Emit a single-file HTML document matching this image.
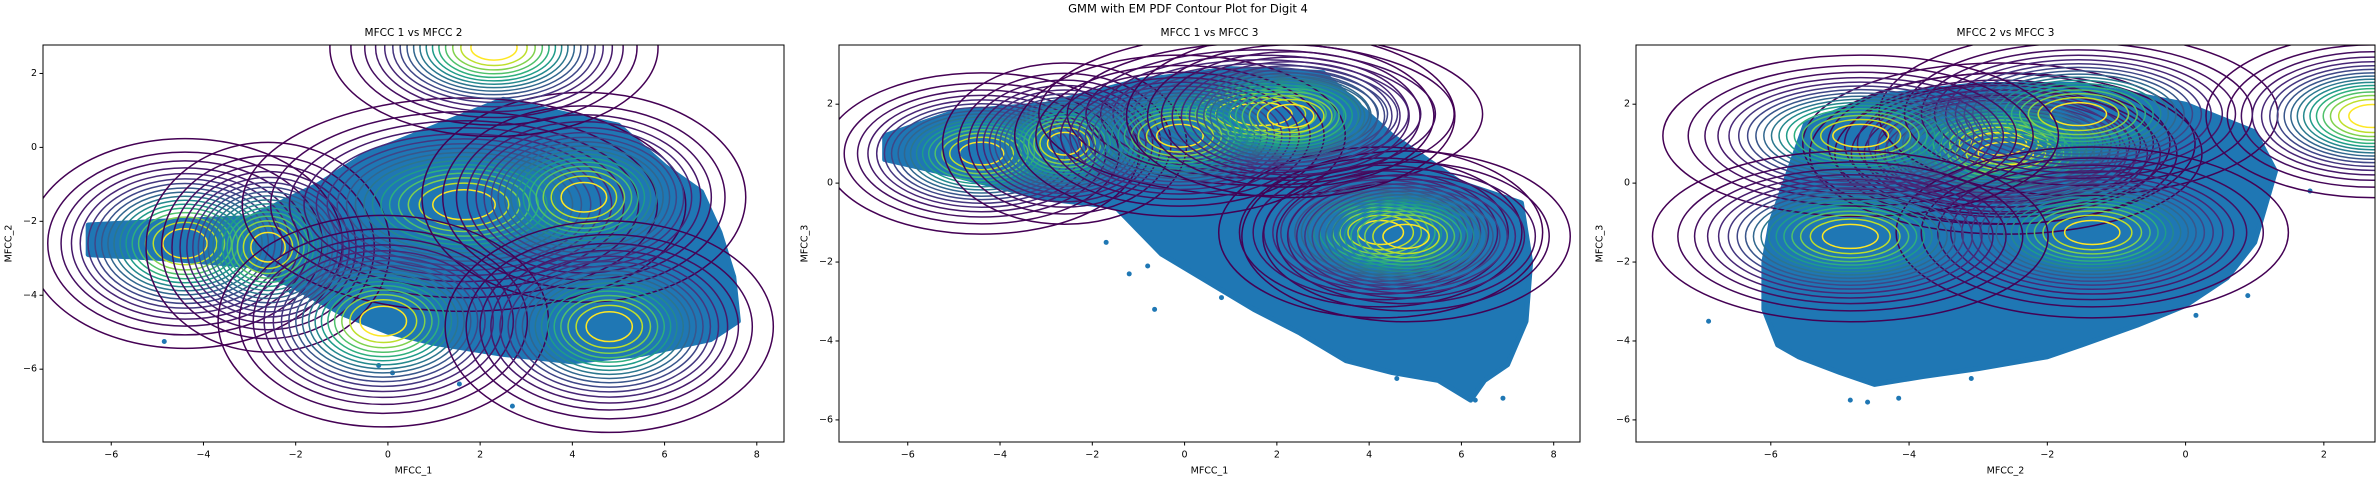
<!DOCTYPE html>
<html><head><meta charset="utf-8"><style>
html,body{margin:0;padding:0;background:#fff}
svg{display:block}
text{font-family:"DejaVu Sans","Liberation Sans",sans-serif;fill:#000}
</style></head><body>
<svg id="fig" width="2376" height="478" viewBox="0 0 2376 478">
<text x="1188" y="9" font-size="11.5" text-anchor="middle" dominant-baseline="middle">GMM with EM PDF Contour Plot for Digit 4</text>
</svg>
<script>
// GMM component means (MFCC1, MFCC2, MFCC3)
const compMeans = [
  [-4.4,-2.6,0.75],[-2.6,-2.7,1.0],[1.65,-1.55,1.75],[4.25,-1.35,-1.25],
  [-0.1,-4.7,1.2],[4.8,-4.85,-1.35],[2.3,2.7,1.7]
];
// component standard deviations per dimension
const compSds = [
  [1.42,1.18,0.85],[1.1,1.18,0.85],[2.0,1.2,0.86],[1.46,1.18,0.9],
  [1.49,1.19,0.85],[1.48,1.19,0.9],[1.48,1.0,0.86]
];
const levelCount = 17;
// scatter cloud outlines (data coords) per panel
const cloud12 = [[-6.5,-2.1],[-5,-2.0],[-3,-1.9],[-1.5,-1.0],[-0.5,-0.2],[0.5,0.3],[1.5,0.8],[2.5,1.3],[3.5,1.0],[5,0.6],[6,-0.5],[6.8,-1.2],[7.2,-2.3],[7.5,-3.5],[7.6,-4.7],[7,-5.2],[5.5,-5.6],[4,-5.8],[2.5,-5.6],[1,-5.3],[0,-5.0],[-1,-4.5],[-2,-3.8],[-3,-3.2],[-5,-3.0],[-6.5,-2.9]];
const out12 = [[-4.85,-5.25],[0.1,-6.1],[-0.2,-5.9],[2.7,-7.0],[1.55,-6.4],[-2.1,-3.9]];
const cloud13 = [[-6.5,1.2],[-5,1.8],[-3,2.0],[-1,2.6],[1,2.9],[3,2.8],[4.5,1.2],[6,0],[7.3,-0.5],[7.5,-2],[7.4,-3.5],[7.0,-4.6],[6.5,-5.0],[6.2,-5.5],[5.5,-5.0],[4.5,-4.8],[3.5,-4.5],[2.5,-3.8],[1.5,-3.2],[0.5,-2.5],[-0.5,-1.8],[-1.0,-1.2],[-1.5,-0.6],[-3,-0.4],[-5,0.2],[-6.5,0.6]];
const out13 = [[-0.65,-3.2],[-1.2,-2.3],[-1.7,-1.5],[-0.8,-2.1],[0.8,-2.9],[6.9,-5.45],[6.3,-5.5],[6.25,-5.4],[4.6,-4.95]];
const cloud23 = [[-6,-1],[-5.5,1.5],[-4.5,2.2],[-3,2.5],[-1.5,2.5],[0,2.0],[1.0,1.3],[1.3,0.3],[1.0,-1.5],[0.6,-2.4],[0,-3.1],[-0.7,-3.6],[-1.5,-4.1],[-2,-4.4],[-3,-4.7],[-3.8,-4.9],[-4.5,-5.1],[-5,-4.8],[-5.6,-4.4],[-5.9,-4.1],[-6.1,-3.2],[-6.1,-2.0]];
const out23 = [[-6.9,-3.5],[1.8,-0.2],[0.9,-2.85],[0.15,-3.35],[-4.15,-5.45],[-4.85,-5.5],[-4.6,-5.55],[-3.1,-4.95]];
const xTicks12 = [-6,-4,-2,0,2,4,6,8];
const yTicks12 = [-6,-4,-2,0,2];
const xTicks23 = [-6,-4,-2,0,2];

const NS = "http://www.w3.org/2000/svg";
const svg = document.getElementById('fig');
function mk(tag, attrs, parent){const e=document.createElementNS(NS,tag);for(const k in attrs)e.setAttribute(k,attrs[k]);(parent||svg).appendChild(e);return e;}
const vir=[[68,1,84],[72,40,120],[62,74,137],[49,104,142],[38,130,142],[31,158,137],[53,183,121],[109,205,89],[180,222,44],[253,231,37]];
function viridis(t){const p=t*(vir.length-1);const i=Math.min(Math.floor(p),vir.length-2);const f=p-i;const c=vir[i].map((v,k)=>Math.round(v+(vir[i+1][k]-v)*f));return `rgb(${c[0]},${c[1]},${c[2]})`;}

const panels = [
 {id:'p12',title:'MFCC 1 vs MFCC 2',xl:'MFCC_1',yl:'MFCC_2',L:43,R:784,T:45,B:442,x0:-7.48,x1:8.59,y0:-7.97,y1:2.77,dx:0,dy:1,cloud:cloud12,out:out12,xt:xTicks12,yt:yTicks12,ylx:5},
 {id:'p13',title:'MFCC 1 vs MFCC 3',xl:'MFCC_1',yl:'MFCC_3',L:839,R:1580,T:45,B:442,x0:-7.49,x1:8.57,y0:-6.56,y1:3.5,dx:0,dy:2,cloud:cloud13,out:out13,xt:xTicks12,yt:yTicks12,ylx:801},
 {id:'p23',title:'MFCC 2 vs MFCC 3',xl:'MFCC_2',yl:'MFCC_3',L:1636,R:2375,T:45,B:442,x0:-7.95,x1:2.74,y0:-6.56,y1:3.5,dx:1,dy:2,cloud:cloud23,out:out23,xt:xTicks23,yt:yTicks12,ylx:1596}
];
panels.forEach((P,pi)=>{
  const sx=v=>P.L+(v-P.x0)/(P.x1-P.x0)*(P.R-P.L);
  const sy=v=>P.B-(v-P.y0)/(P.y1-P.y0)*(P.B-P.T);
  const g=mk('g',{});
  
  
  const cp=mk('clipPath',{id:'clip'+pi},g);
  mk('rect',{x:P.L,y:P.T,width:P.R-P.L,height:P.B-P.T},cp);
  const plot=mk('g',{'clip-path':`url(#clip${pi})`},g);
  const cl=mk('polygon',{points:P.cloud.map(p=>sx(p[0])+','+sy(p[1])).join(' '),fill:'#1f77b4',stroke:'#1f77b4','stroke-width':5,'stroke-linejoin':'round'},plot);
  
  
  P.out.forEach(p=>{
    const c=mk('circle',{cx:sx(p[0]),cy:sy(p[1]),r:2.5,fill:'#1f77b4'},plot);
    
    
  });
  compMeans.forEach((m,ci)=>{
    const s=compSds[ci];
    for(let i=1;i<=levelCount;i++){
      const r=Math.sqrt(-2*Math.log(i/(levelCount+1)));
      const rx=r*s[P.dx]*(P.R-P.L)/(P.x1-P.x0), ry=r*s[P.dy]*(P.B-P.T)/(P.y1-P.y0);
      const t=Math.pow((i-1)/(levelCount-1),1.6);
      const e=mk('ellipse',{cx:sx(m[P.dx]),cy:sy(m[P.dy]),rx:rx,ry:ry,fill:'none',stroke:viridis(t),'stroke-width':1.5},plot);
      
      
    }
  });
  const fr=mk('rect',{x:P.L,y:P.T,width:P.R-P.L,height:P.B-P.T,fill:'none',stroke:'#000','stroke-width':1},g);
  
  
  P.xt.forEach(v=>{
    const x=sx(v);
    mk('line',{x1:x,x2:x,y1:P.B,y2:P.B+3.5,stroke:'#000'},g);
    const t=mk('text',{x:x,y:P.B+13,'font-size':9.5,'text-anchor':'middle','dominant-baseline':'middle'},g);
    t.textContent=(v<0?'\u2212'+(-v):String(v));
    
    
  });
  P.yt.forEach(v=>{
    const y=sy(v);
    mk('line',{x1:P.L-3.5,x2:P.L,y1:y,y2:y,stroke:'#000'},g);
    const t=mk('text',{x:P.L-6,y:y,'font-size':9.5,'text-anchor':'end','dominant-baseline':'middle'},g);
    t.textContent=(v<0?'\u2212'+(-v):String(v));
    
    
  });
  const ti=mk('text',{x:(P.L+P.R)/2,y:33,'font-size':10.5,'text-anchor':'middle','dominant-baseline':'middle'},g);
  ti.textContent=P.title;
  
  
  const xl=mk('text',{x:(P.L+P.R)/2,y:471,'font-size':9.5,'text-anchor':'middle','dominant-baseline':'middle'},g);
  xl.textContent=P.xl;
  
  
  const yl=mk('text',{x:P.ylx+4,y:(P.T+P.B)/2,'font-size':9.5,'text-anchor':'middle','dominant-baseline':'middle',transform:`rotate(-90 ${P.ylx+4} ${(P.T+P.B)/2})`},g);
  yl.textContent=P.yl;
  
  
});
</script>
</body></html>
